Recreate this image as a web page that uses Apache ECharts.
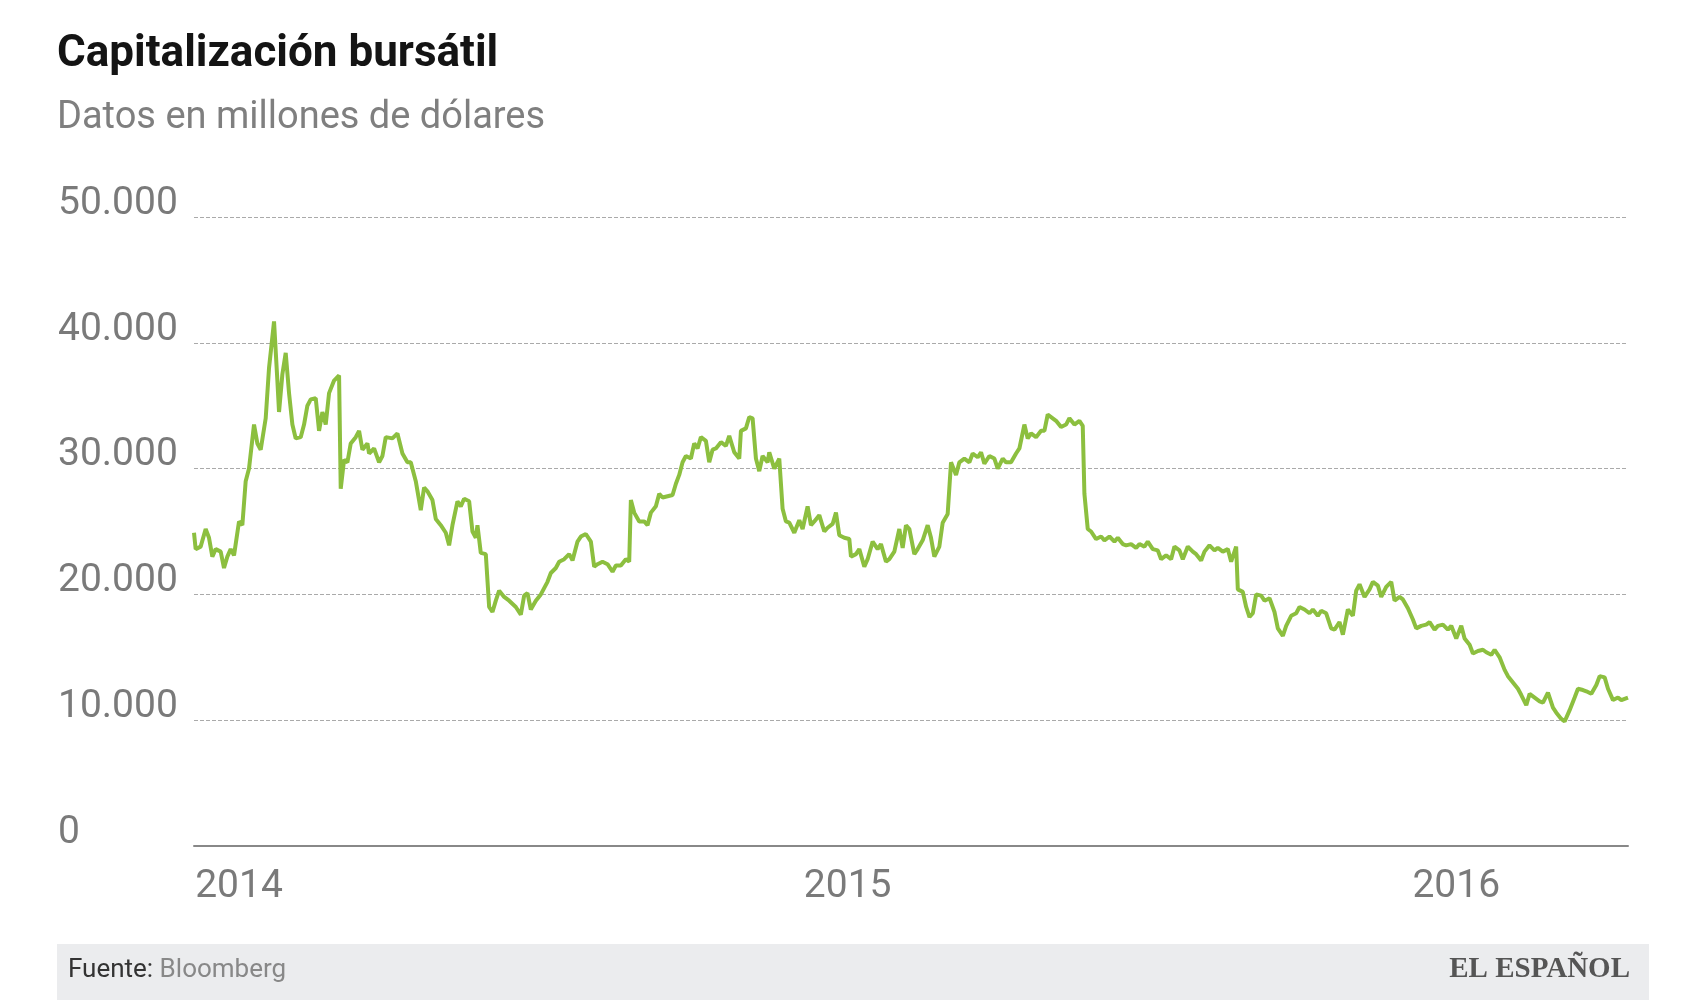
<!DOCTYPE html>
<html>
<head>
<meta charset="utf-8">
<script src="https://cdn.jsdelivr.net/npm/echarts@6/dist/echarts.min.js"></script>
<style>html,body{margin:0;padding:0;background:#fff}#main{width:1706px;height:1000px}</style>
</head>
<body>
<div id="main"></div>
<script>
// dias desde el 1 de enero de 2014
let days = [-27,-26,-23,-20,-18,-16,-14,-11,-9,-7,-5,-3,0,2,4,6,9,11,13,16,18,21,23,24,26,28,30,32,34,37,39,41,43,46,48,50,52,54,57,60,61,63,65,67,70,72,74,77,78,81,84,86,88,92,95,98,101,103,106,109,111,113,116,118,121,124,126,128,131,133,135,138,140,142,143,145,148,150,152,154,156,159,162,166,169,171,173,175,178,181,183,185,187,190,192,195,198,200,203,205,208,211,213,215,218,221,224,226,229,232,234,235,237,240,243,245,247,250,252,254,257,260,262,264,266,268,271,273,275,277,280,282,284,286,289,292,294,297,300,301,304,306,308,310,312,314,317,318,321,324,326,328,330,333,336,338,341,343,345,348,351,353,356,358,360,363,366,367,370,372,375,377,380,383,385,388,390,393,396,398,400,402,405,407,410,413,415,417,420,422,425,427,430,432,435,438,440,443,445,447,450,453,455,458,460,463,466,468,471,473,475,478,481,483,485,488,490,493,496,498,501,504,506,507,509,511,514,517,519,522,525,527,530,532,535,538,540,543,545,548,551,553,556,559,561,564,566,569,572,574,577,579,582,585,587,590,593,595,598,599,602,604,606,608,610,613,615,618,621,623,626,628,631,634,636,639,642,644,647,649,652,655,657,660,662,665,668,670,672,675,678,680,683,685,688,691,693,696,698,701,704,706,709,712,714,717,719,722,725,727,730,733,735,738,740,743,746,748,751,753,756,759,761,764,767,769,772,774,777,780,782,785,788,790,793,795,798,801,803,806,808,811,814,816,819,821,824,827,829,833];
// miles de millones de dólares
let values = [24.9,23.6,23.8,25.2,24.5,23.0,23.6,23.4,22.1,23.0,23.6,23.1,25.8,25.5,29.0,30.0,33.5,32.0,31.5,34.0,38.0,41.7,37.0,34.5,37.5,39.2,36.0,33.5,32.4,32.5,33.5,35.0,35.5,35.6,33.0,34.5,33.5,36.0,37.0,37.4,28.4,30.7,30.5,32.0,32.5,33.0,31.5,32.0,31.2,31.6,30.5,31.0,32.5,32.4,32.8,31.2,30.5,30.5,29.0,26.7,28.5,28.2,27.5,26.0,25.5,24.9,23.9,25.5,27.4,27.0,27.6,27.4,25.0,24.5,25.5,23.3,23.2,19.0,18.6,19.5,20.3,19.8,19.5,19.0,18.4,19.9,20.1,18.8,19.5,20.0,20.5,21.0,21.7,22.1,22.6,22.8,23.2,22.7,24.2,24.6,24.8,24.2,22.2,22.4,22.6,22.4,21.8,22.3,22.3,22.8,22.6,27.5,26.5,25.8,25.8,25.5,26.5,27.0,28.0,27.7,27.8,27.9,28.8,29.5,30.5,31.0,30.8,32.0,31.6,32.5,32.2,30.5,31.5,31.6,32.1,31.8,32.6,31.3,30.8,33.0,33.2,34.1,34.0,30.8,29.8,31.0,30.5,31.3,30.0,30.8,26.8,25.8,25.7,24.9,25.9,25.2,27.0,25.5,25.8,26.3,25.0,25.3,25.6,26.5,24.7,24.5,24.4,23.0,23.2,23.6,22.2,22.8,24.2,23.6,24.0,22.6,22.8,23.4,25.2,23.7,25.5,25.2,23.2,23.6,24.3,25.5,24.5,23.0,23.8,25.7,26.4,30.5,29.5,30.5,30.8,30.5,31.2,30.9,31.3,30.4,31.0,30.8,30.0,30.8,30.5,30.5,31.2,31.6,33.5,32.4,32.8,32.5,33.0,33.0,34.3,34.0,33.8,33.3,33.5,34.0,33.5,33.8,33.4,28.0,25.2,25.0,24.4,24.6,24.3,24.6,24.2,24.5,24.0,23.9,24.0,23.7,24.0,23.8,24.2,23.6,23.5,22.8,23.1,22.8,23.8,23.5,22.8,23.8,23.4,23.2,22.7,23.4,23.9,23.5,23.7,23.4,23.6,22.6,23.8,20.4,20.2,19.0,18.2,18.5,20.0,19.9,19.5,19.7,18.6,17.3,16.7,17.5,18.3,18.5,19.0,18.8,18.5,18.8,18.3,18.7,18.5,17.3,17.2,17.8,16.8,18.8,18.3,20.3,20.8,19.8,20.4,21.0,20.7,19.8,20.6,21.0,19.5,19.8,19.6,18.9,18.0,17.3,17.5,17.6,17.8,17.2,17.5,17.6,17.2,17.5,16.5,17.5,16.5,16.0,15.3,15.5,15.6,15.4,15.2,15.6,15.0,14.0,13.5,13.0,12.5,12.0,11.2,12.1,11.8,11.5,11.4,12.2,11.0,10.6,10.1,9.9,10.8,11.8,12.5,12.4,12.3,12.1,12.8,13.5,13.4,12.5,11.6,11.8,11.6,11.8];
let yearTicks = [0, 365, 730];
let yearLabels = ['2014', '2015', '2016'];

let chart = echarts.init(document.getElementById('main'));
let option = {
    animation: false,
    title: {
        text: 'Capitalización bursátil',
        subtext: 'Datos en millones de dólares',
        left: 52, top: 28, itemGap: 22,
        textStyle: {fontFamily: 'Roboto', fontSize: 44, fontWeight: 'bold', color: '#141414'},
        subtextStyle: {fontFamily: 'Roboto', fontSize: 38, color: '#7f7f7f'}
    },
    grid: {left: 194, right: 78, top: 217, bottom: 154},
    xAxis: {
        type: 'value', min: -27, max: 833,
        splitLine: {show: false},
        axisTick: {show: false},
        axisLine: {lineStyle: {color: '#888', width: 2}},
        axisLabel: {
            customValues: yearTicks,
            formatter: v => yearLabels[yearTicks.indexOf(v)],
            fontFamily: 'Roboto', fontSize: 39, color: '#7a7a7a', margin: 22
        }
    },
    yAxis: {
        type: 'value', min: 0, max: 50, interval: 10,
        axisLine: {show: false},
        axisTick: {show: false},
        splitLine: {lineStyle: {type: 'dashed', color: '#aaa', width: 1}},
        axisLabel: {
            formatter: v => v === 0 ? '0' : (v + '.000'),
            align: 'left', verticalAlign: 'bottom', margin: 136, lineHeight: 26,
            fontFamily: 'Roboto', fontSize: 39, color: '#7a7a7a'
        }
    },
    series: [{
        type: 'line',
        data: days.map((d, i) => [d, values[i]]),
        showSymbol: false,
        lineStyle: {color: '#8cbf3f', width: 4},
        itemStyle: {color: '#8cbf3f'}
    }],
    graphic: [
        {type: 'rect', shape: {x: 57, y: 944, width: 1592, height: 56}, style: {fill: '#ebecee'}},
        {type: 'text', left: 68, top: 957, style: {
            rich: {a: {fill: '#333', fontSize: 26, fontFamily: 'Roboto'}, b: {fill: '#888', fontSize: 26, fontFamily: 'Roboto'}},
            text: '{a|Fuente: }{b|Bloomberg}'}},
        {type: 'text', right: 76, top: 955, style: {
            text: 'EL ESPAÑOL', fill: '#555', fontSize: 29, fontFamily: 'Liberation Serif', fontWeight: 'bold'}}
    ]
};
chart.setOption(option);
</script>
</body>
</html>
